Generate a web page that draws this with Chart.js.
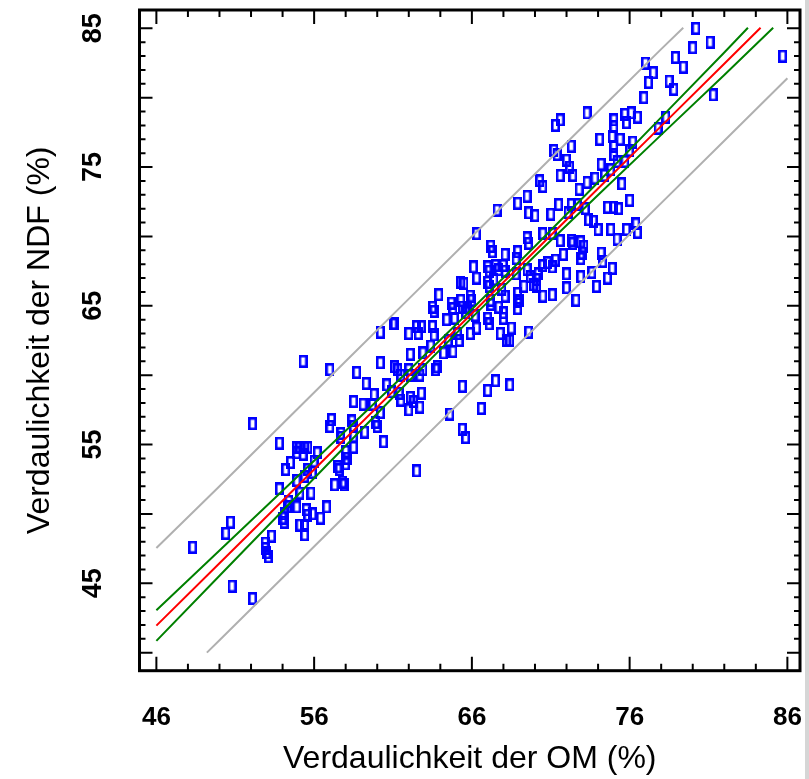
<!DOCTYPE html>
<html>
<head>
<meta charset="utf-8">
<script src="https://cdn.jsdelivr.net/npm/chart.js@4/dist/chart.umd.min.js"></script>
<style>
html,body{margin:0;padding:0;background:#fff;}
canvas{display:block;}
</style>
</head>
<body>
<canvas id="c" width="809" height="779"></canvas>
<script>
// Verdaulichkeit der OM (%) — x values of the observations
const omDigestibility = [
48.3,50.4,50.7,50.8,52.1,52.1,53.3,52.9,52.9,53.0,53.1,53.8,53.8,54.0,54.1,54.1,54.3,54.4,54.2,54.5,
54.9,55.1,55.4,55.6,54.9,55.3,56.2,56.0,55.9,54.9,55.4,55.6,55.1,55.8,54.9,55.5,55.6,55.9,56.4,56.8,
55.1,55.4,55.4,55.3,57.1,57.0,58.5,57.7,57.7,58.4,58.5,59.2,59.9,60.0,60.2,58.0,58.1,58.0,57.5,57.6,
57.8,57.9,57.3,58.5,58.5,60.4,59.7,57.0,
67.6,68.9,66.3,69.6,70.0,71.0,71.5,72.3,72.1,73.4,73.7,74.6,75.0,74.8,76.0,72.7,67.2,67.3,68.1,68.9,
68.8,69.5,69.6,70.5,71.1,71.6,72.3,72.4,72.9,73.1,72.9,73.0,74.2,66.1,66.3,65.5,67.0,67.1,67.5,67.7,
68.0,68.1,68.8,69.5,69.7,70.1,70.2,70.5,70.8,71.1,71.3,71.8,72.0,72.9,74.6,73.9,72.0,63.9,65.3,63.5,
63.6,64.7,64.8,65.3,65.4,65.9,66.0,67.0,67.1,67.4,67.9,68.1,68.9,69.0,69.3,69.9,70.1,70.5,71.1,67.2,
67.2,67.7,68.9,68.9,68.0,68.0,67.0,67.1,66.2,65.7,65.6,64.4,64.9,68.5,68.4,68.2,67.8,69.6,66.3,65.9,
65.1,65.2,64.5,64.8,64.2,63.6,63.5,62.8,62.6,62.0,62.5,61.0,61.1,60.2,63.4,62.9,62.1,63.8,63.7,62.9,
62.0,62.1,61.1,61.3,61.5,62.7,60.2,60.6,60.9,61.4,61.5,62.1,62.3,62.8,62.7,62.0,65.4,67.0,67.5,68.4,
66.6,64.6,
80.2,80.0,81.1,78.9,79.4,77.0,77.5,77.2,78.5,78.8,76.9,81.3,85.7,73.3,71.6,75.7,76.1,76.5,75.0,78.3,
75.0,74.9,75.0,75.0,75.2,74.8,74.4,74.2,73.8,73.3,72.8,72.4,72.2,72.0,72.3,71.3,71.2,71.4,70.5,70.3,
69.5,75.5,75.7,76.0,75.4,76.4,76.5,77.8,58.7,59.8,59.3,59.1,65.4,65.6,
74.0,75.2,74.3,74.9,73.6,72.6,73.2,71.6,74.1,75.8,76.2,75.3,75.8,62.5
];
// Verdaulichkeit der NDF (%) — y values of the observations
const ndfDigestibility = [
47.6,48.6,49.4,44.8,43.9,56.5,48.4,47.9,47.5,47.2,46.9,55.1,51.8,49.7,49.4,50.0,50.5,50.9,53.2,53.7,
54.8,54.8,54.8,54.8,54.4,54.3,54.4,53.8,53.0,52.4,52.7,53.2,51.5,51.5,50.5,50.3,49.9,50.0,49.7,50.5,
49.2,49.2,48.5,61.0,56.8,56.3,58.1,55.8,55.5,56.7,56.3,55.9,56.6,56.3,57.3,54.5,54.0,53.6,53.4,53.2,
52.3,52.1,52.1,55.6,54.8,55.2,57.9,60.4,
71.9,72.4,70.2,71.7,71.5,71.6,72.3,72.3,71.7,71.2,71.1,72.1,72.1,70.5,72.6,72.3,69.3,68.9,68.7,68.9,
68.4,69.9,69.5,70.2,70.2,69.7,69.7,69.5,69.6,69.3,68.4,68.8,68.8,67.8,67.0,66.6,67.8,67.5,67.9,67.6,
67.9,67.5,67.3,67.6,67.1,66.9,67.3,67.9,68.1,67.8,68.3,68.7,67.3,67.1,67.0,66.4,66.3,65.8,66.7,64.9,
64.6,65.2,64.8,65.4,64.9,65.7,65.4,66.7,66.4,66.9,66.2,65.7,65.9,65.4,66.4,66.5,66.4,65.7,65.8,65.4,
65.1,64.9,65.3,64.8,64.5,64.1,64.1,63.7,64.3,64.9,64.5,64.0,64.1,63.4,62.5,62.5,63.0,63.1,63.4,63.0,
63.0,62.5,62.5,61.7,61.6,62.9,63.5,63.5,63.0,63.0,63.5,63.7,63.7,63.1,62.1,61.6,61.5,60.6,60.4,60.4,
60.4,60.0,60.6,60.4,60.0,60.0,60.9,59.3,58.8,58.7,58.2,58.4,58.1,58.7,57.7,57.5,59.2,58.9,59.6,59.3,
57.6,57.2,
85.0,83.6,84.0,82.9,82.2,82.5,81.8,81.1,81.2,80.6,80.0,80.2,83.0,78.9,78.4,78.8,78.9,78.6,78.4,78.6,
77.9,77.2,76.5,75.9,75.4,74.8,74.4,75.2,74.2,73.9,73.4,74.4,75.0,75.5,76.5,78.0,76.2,75.9,73.6,74.0,
72.9,73.8,75.4,76.2,77.0,70.9,70.3,77.8,60.2,58.6,59.4,57.9,56.1,55.5,
70.5,69.8,68.2,67.7,67.4,65.4,72.0,74.4,77.0,78.2,76.8,72.0,70.5,53.1
];

// Fitted line (red), confidence band (green), prediction band (grey)
const fitX = [46, 50, 54, 58, 62, 66, 70, 74, 78, 82, 84.3];
const fitY = [41.95, 46.45, 50.95, 55.45, 59.95, 64.45, 68.95, 73.45, 77.95, 82.45, 85.04];
const ciUpperX = [46, 50, 54, 58, 62, 66, 70, 74, 78, 82, 83.5];
const ciUpperY = [43.05, 47.36, 51.67, 55.99, 60.34, 64.75, 69.29, 73.91, 78.58, 83.26, 85.04];
const ciLowerX = [46, 50, 54, 58, 62, 66, 70, 74, 78, 82, 85.1];
const ciLowerY = [40.85, 45.54, 50.23, 54.91, 59.56, 64.15, 68.61, 72.99, 77.32, 81.64, 85.04];
const piUpperX = [46, 50, 54, 58, 62, 66, 70, 74, 78, 79.4];
const piUpperY = [47.55, 52.0, 56.5, 61.0, 65.5, 70.0, 74.5, 79.0, 83.5, 85.04];
const piLowerX = [49.2, 50, 54, 58, 62, 66, 70, 74, 78, 82, 86];
const piLowerY = [40.0, 40.9, 45.4, 49.9, 54.4, 58.9, 63.4, 67.9, 72.4, 76.9, 81.4];

// Axis ticks
const xTickLabels = [46, 56, 66, 76, 86];
const xMinorTicks = [48, 50, 52, 54, 58, 60, 62, 64, 68, 70, 72, 74, 78, 80, 82, 84];
const yTickLabels = [45, 55, 65, 75, 85];
const yMajorTicks = [40, 45, 50, 55, 60, 65, 70, 75, 80, 85];
const yMinorTicks = [41, 42, 43, 44, 46, 47, 48, 49, 51, 52, 53, 54, 56, 57, 58, 59, 61, 62, 63, 64,
                     66, 67, 68, 69, 71, 72, 73, 74, 76, 77, 78, 79, 81, 82, 83, 84];

const FONT = '"Liberation Sans", Arial, Helvetica, sans-serif';
Chart.defaults.font.family = FONT;
Chart.defaults.color = '#000';

const zip = (xs, ys) => xs.map((v, i) => ({x: v, y: ys[i]}));

function makeMarker() {
  const c = document.createElement('canvas');
  c.width = 9; c.height = 13;
  const g = c.getContext('2d');
  g.strokeStyle = '#0000ff';
  g.lineWidth = 2.6;
  g.strokeRect(1.3, 1.3, 6.4, 10.4);
  return c;
}

const background = {
  id: 'background',
  beforeDraw(chart) {
    const {ctx, width, height} = chart;
    ctx.save();
    ctx.fillStyle = '#ffffff';
    ctx.fillRect(0, 0, width, height);
    ctx.fillStyle = '#d6d6d6';
    ctx.fillRect(805, 0, width - 805, height);
    ctx.restore();
  }
};

const frameTicks = {
  id: 'frameTicks',
  afterDatasetsDraw(chart) {
    const {ctx, chartArea: a, scales: {x, y}} = chart;
    ctx.save();
    ctx.strokeStyle = '#000';
    ctx.lineWidth = 2;
    ctx.beginPath();
    const tx = (v, len) => {
      const p = x.getPixelForValue(v);
      ctx.moveTo(p, a.bottom); ctx.lineTo(p, a.bottom - len);
      ctx.moveTo(p, a.top); ctx.lineTo(p, a.top + len);
    };
    const ty = (v, len) => {
      const p = y.getPixelForValue(v);
      ctx.moveTo(a.left, p); ctx.lineTo(a.left + len, p);
      ctx.moveTo(a.right, p); ctx.lineTo(a.right - len, p);
    };
    xTickLabels.forEach(v => tx(v, 14));
    xMinorTicks.forEach(v => tx(v, 7));
    yMajorTicks.forEach(v => ty(v, 13));
    yMinorTicks.forEach(v => ty(v, 6));
    ctx.stroke();
    ctx.lineWidth = 3;
    ctx.strokeRect(a.left, a.top, a.right - a.left, a.bottom - a.top);
    ctx.restore();
  }
};

const noPad = s => { s.paddingTop = 0; s.paddingBottom = 0; s.paddingLeft = 0; s.paddingRight = 0; };

const lineDs = (label, xs, ys, color, order) => ({
  type: 'line', label, data: zip(xs, ys), borderColor: color, borderWidth: 2,
  pointRadius: 0, fill: false, tension: 0, order
});

new Chart(document.getElementById('c'), {
  type: 'scatter',
  data: {
    datasets: [
      lineDs('Regression', fitX, fitY, '#ff0000', 1),
      lineDs('KI oben', ciUpperX, ciUpperY, '#008000', 2),
      lineDs('KI unten', ciLowerX, ciLowerY, '#008000', 2),
      lineDs('PI oben', piUpperX, piUpperY, '#b0b0b0', 3),
      lineDs('PI unten', piLowerX, piLowerY, '#b0b0b0', 3),
      {
        type: 'scatter', label: 'Beobachtungen',
        data: zip(omDigestibility, ndfDigestibility),
        pointStyle: makeMarker(), pointRadius: 4, showLine: false, order: 10
      }
    ]
  },
  options: {
    responsive: false,
    animation: false,
    devicePixelRatio: 1,
    layout: {padding: {top: 10, right: 9, left: 0, bottom: 0}},
    plugins: {legend: {display: false}, tooltip: {enabled: false}},
    scales: {
      x: {
        type: 'linear', min: 44.93, max: 86.8, bounds: 'data',
        afterBuildTicks: s => { s.ticks = xTickLabels.map(v => ({value: v})); },
        afterFit: s => { s.height = 108.3; noPad(s); },
        grid: {display: false, drawTicks: false},
        border: {display: false},
        ticks: {color: '#000', font: {size: 26, weight: 'bold'}, padding: 31.7,
                maxRotation: 0, minRotation: 0, autoSkip: false},
        title: {display: true, text: 'Verdaulichkeit der OM (%)', color: '#000',
                font: {size: 32}, padding: {top: 0, bottom: 1}}
      },
      y: {
        type: 'linear', min: 38.70, max: 86.32, bounds: 'data',
        afterBuildTicks: s => { s.ticks = yTickLabels.map(v => ({value: v})); },
        afterFit: s => { s.width = 139.5; noPad(s); },
        grid: {display: false, drawTicks: false},
        border: {display: false},
        ticks: {color: '#000', font: {size: 27, weight: 'bold'}, padding: 31,
                minRotation: 90, maxRotation: 90, crossAlign: 'center', autoSkip: false},
        title: {display: true, text: 'Verdaulichkeit der NDF (%)', color: '#000',
                font: {size: 32}, padding: {top: 21.4, bottom: 0}}
      }
    }
  },
  plugins: [background, frameTicks]
});
</script>
</body>
</html>
